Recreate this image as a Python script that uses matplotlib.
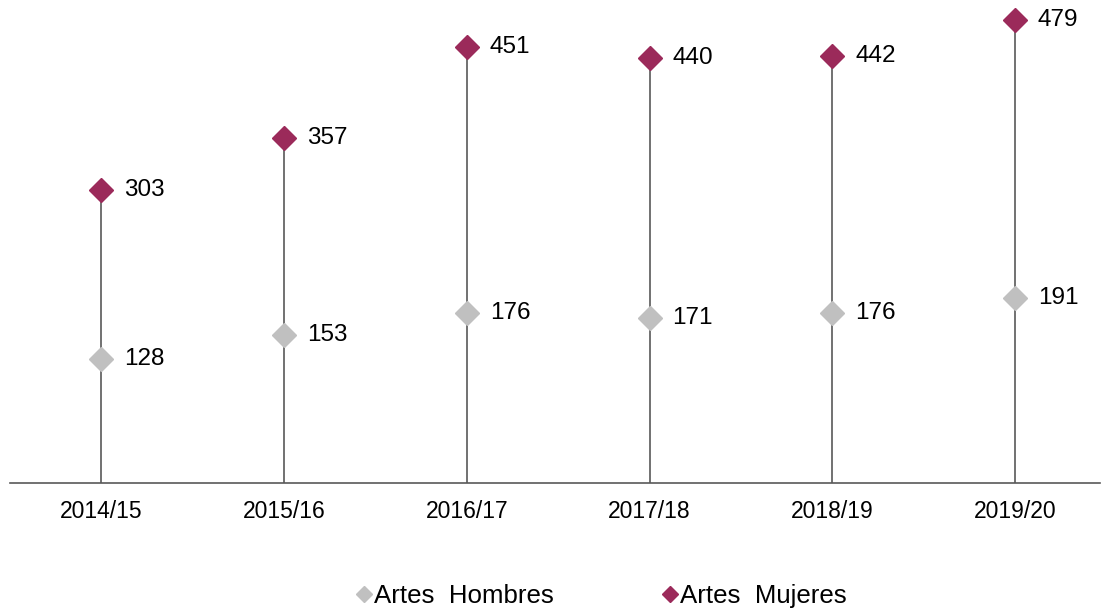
import numpy as np
import matplotlib.pyplot as plt
from matplotlib.lines import Line2D

plt.rcParams['font.family'] = ['Liberation Sans', 'DejaVu Sans']

years = ['2014/15', '2015/16', '2016/17', '2017/18', '2018/19', '2019/20']
hombres = [128, 153, 176, 171, 176, 191]
mujeres = [303, 357, 451, 440, 442, 479]

c_h = '#c0c0c0'
c_m = '#9b2a5a'
c_axis = '#595959'

fig = plt.figure(figsize=(11.01, 6.12), dpi=100)
ax = fig.add_axes([10 / 1101, 1 - 483 / 612, 1090 / 1101, 483 / 612])

x = np.arange(len(years))
ax.vlines(x, 0, mujeres, color=c_axis, linewidth=1.2, zorder=1)
ax.plot(x, hombres, linestyle='none', marker='D', markersize=12.5,
        color=c_h, zorder=3, clip_on=False)
ax.plot(x, mujeres, linestyle='none', marker='D', markersize=12.5,
        color=c_m, zorder=3, clip_on=False)

for xi, h, m in zip(x, hombres, mujeres):
    ax.annotate(str(h), (xi, h), xytext=(16.5, 0), textcoords='offset points',
                va='center', ha='left', fontsize=17.5)
    ax.annotate(str(m), (xi, m), xytext=(16.5, 0), textcoords='offset points',
                va='center', ha='left', fontsize=17.5)

ax.set_xlim(-0.5, 5.465)
ax.set_ylim(0, 500)
ax.set_xticks(x)
ax.set_xticklabels(years, fontsize=16.5)
ax.tick_params(axis='x', length=0, pad=12)
ax.set_yticks([])
for s in ['top', 'right', 'left']:
    ax.spines[s].set_visible(False)
ax.spines['bottom'].set_color(c_axis)
ax.spines['bottom'].set_linewidth(1.2)

handles = [Line2D([], [], linestyle='none', marker='D', markersize=8, color=c_h),
           Line2D([], [], linestyle='none', marker='D', markersize=8, color=c_m)]
fig.legend(handles, ['Artes  Hombres', 'Artes  Mujeres'], loc='center',
           bbox_to_anchor=(0.545, 1 - 596 / 612), ncol=2, frameon=False,
           fontsize=18.6, handletextpad=0.0, columnspacing=4.1, handlelength=0.8)

fig.savefig('out.png', dpi=100)
